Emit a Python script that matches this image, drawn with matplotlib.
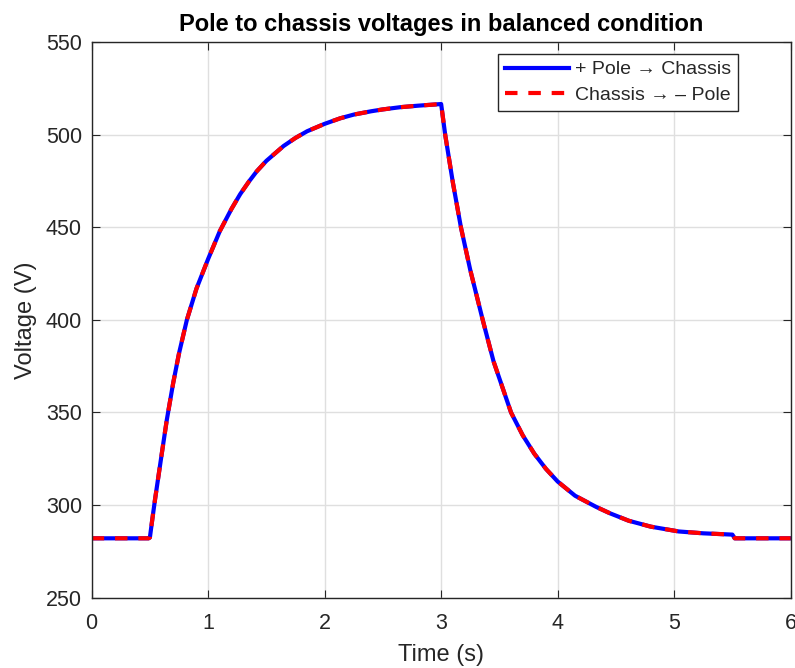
import matplotlib
matplotlib.use("Agg")
import matplotlib.pyplot as plt

# ---------- DATA ----------
time_s = [0.0, 0.49, 0.5, 0.52, 0.544, 0.6, 0.645, 0.7, 0.75, 0.817, 0.9,
          1.0, 1.1, 1.2, 1.275, 1.35, 1.418, 1.5, 1.647, 1.75, 1.85,
          2.0, 2.134, 2.25, 2.4, 2.5, 2.65, 2.8, 3.0,
          3.035, 3.1, 3.17, 3.25, 3.357, 3.45, 3.6, 3.7, 3.8, 3.9,
          4.0, 4.15, 4.33, 4.45, 4.61, 4.8, 5.04, 5.25, 5.5, 5.52, 6.0]
pos_to_chassis = [282, 282, 282.5, 292, 303, 327, 346, 366, 382, 400, 417,
                  433, 448, 460, 468, 474.8, 480.4, 486, 494, 498.4, 502,
                  506, 509, 511, 512.8, 513.8, 515, 515.8, 516.7,
                  500, 474.5, 450, 427, 400, 377.6, 350, 337.7, 327.7, 319.5,
                  312.7, 305, 299, 295.5, 291.5, 288.3, 285.7, 284.7, 284, 282, 282]
chassis_to_neg = list(pos_to_chassis)  # balanced: both curves overlap

# ---------- PLOT ----------
plt.rcParams['font.family'] = ['Liberation Sans', 'DejaVu Sans']
txt = '#262626'

fig = plt.figure(figsize=(7.95, 6.68), dpi=100)
ax = fig.add_axes([0.1153, 0.1055, 0.8792, 0.831])

ax.plot(time_s, pos_to_chassis, color='#0000ff', lw=3, label='+ Pole \u2192 Chassis')
ax.plot(time_s, chassis_to_neg, color='#ff0000', lw=3, ls=(0, (3, 2.6)),
        label='Chassis \u2192 \u2013 Pole')

ax.set_xlim(0, 6)
ax.set_ylim(250, 550)
ax.set_xticks(range(0, 7))
ax.set_yticks(range(250, 551, 50))
ax.grid(True, color='#dfdfdf', lw=1)
ax.set_axisbelow(True)
ax.tick_params(direction='in', top=True, right=True, length=6,
               labelsize=15.5, colors=txt, labelcolor=txt)
ax.tick_params(axis='x', pad=11)
ax.tick_params(axis='y', pad=7)
for s in ax.spines.values():
    s.set_color(txt)
    s.set_linewidth(1)

ax.set_xlabel('Time (s)', fontsize=17, color=txt, labelpad=7)
ax.set_ylabel('Voltage (V)', fontsize=17, color=txt, labelpad=6)
ax.set_title('Pole to chassis voltages in balanced condition',
             fontsize=17, fontweight='bold', color='black', pad=8)

leg = ax.legend(loc='upper right', bbox_to_anchor=(0.9246, 0.979), fontsize=14,
                handlelength=3.3, handletextpad=0.3, borderpad=0.35,
                labelspacing=0.42, fancybox=False, framealpha=1,
                edgecolor=txt, borderaxespad=0)
leg.get_frame().set_linewidth(1)
for t in leg.get_texts():
    t.set_color(txt)

fig.savefig('out.png', dpi=100)
